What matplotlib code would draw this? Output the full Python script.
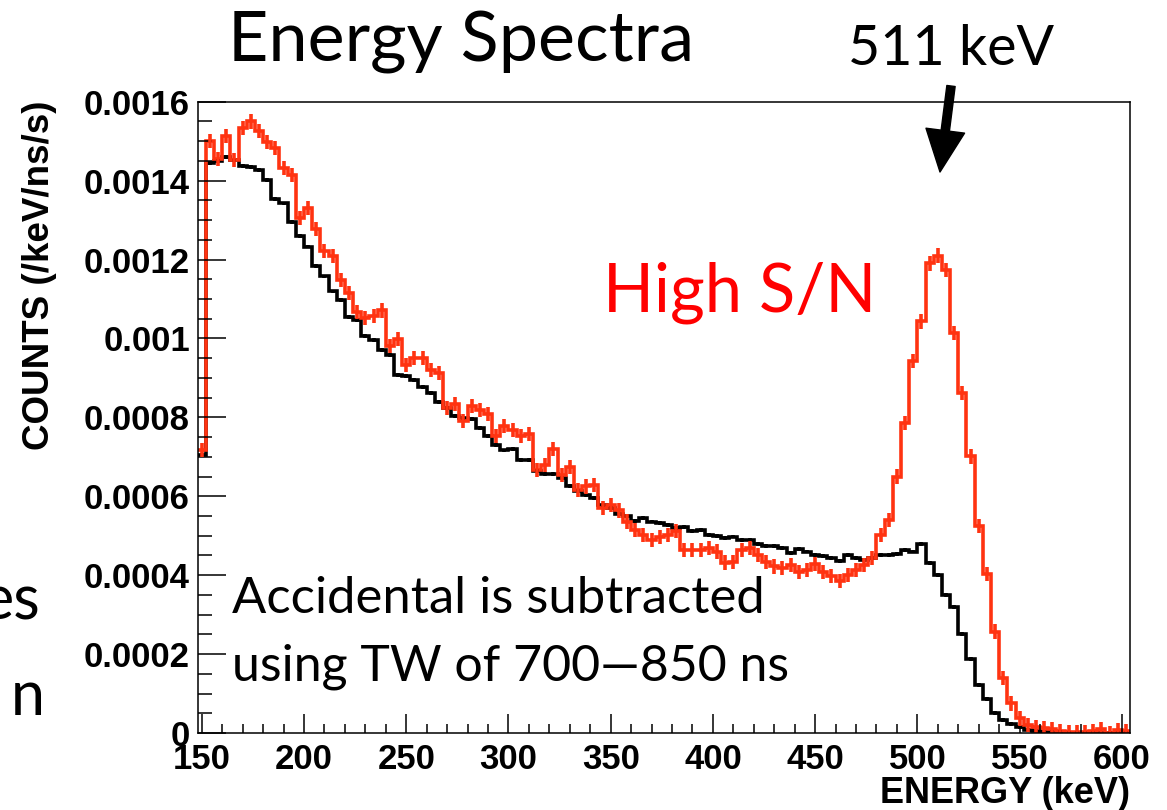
import numpy as np
import matplotlib
matplotlib.use("Agg")
import matplotlib.pyplot as plt
from matplotlib.patches import FancyArrowPatch
from matplotlib.ticker import MultipleLocator, FuncFormatter

# histogram binning (keV): 114 bins of 4 keV from 148 keV
edge_first = 148
bin_width = 4
n_bins = 114

# black: total spectrum (counts /keV/ns/s)
black = [0.000705, 0.001445, 0.001449, 0.001459, 0.001451, 0.001438, 0.001435, 0.001428,
         0.001402, 0.001353, 0.001342, 0.001294, 0.00126, 0.001233, 0.001183, 0.001157,
         0.001119, 0.001098, 0.001054, 0.001046, 0.001005, 0.000995, 0.000971, 0.000959,
         0.000908, 0.000904, 0.000895, 0.000878, 0.000861, 0.00084, 0.000823, 0.000804,
         0.000798, 0.000795, 0.000773, 0.000753, 0.00073, 0.000716, 0.000719, 0.000691,
         0.000692, 0.000663, 0.000657, 0.000657, 0.000646, 0.000625, 0.000614, 0.000602,
         0.000595, 0.000578, 0.00057, 0.000555, 0.00055, 0.000538, 0.000546, 0.000536,
         0.000533, 0.000527, 0.000519, 0.000522, 0.000513, 0.000515, 0.000502, 0.0005,
         0.000494, 0.000498, 0.000489, 0.000488, 0.000479, 0.000473, 0.000474, 0.000468,
         0.000457, 0.000466, 0.00046, 0.000451, 0.000449, 0.000443, 0.000437, 0.000451,
         0.000443, 0.000439, 0.000443, 0.000451, 0.000451, 0.000454, 0.000464, 0.00046,
         0.000479, 0.00043, 0.000401, 0.00035, 0.00032, 0.00025, 0.000187, 0.000122,
         0.000086, 0.00005, 0.000032, 0.000024, 0.000014, 0.000008, 0.000005, 0.0000035,
         0.000002, 0.0000015, 0.000001, 0.000001, 0.0000008, 0.0000006, 0.0000005,
         0.0000004, 0.0000003, 0.0000002]

# red: high S/N selection
red = [0.000718, 0.0015, 0.001455, 0.001514, 0.001453, 0.001534, 0.00155, 0.001525,
       0.001497, 0.001483, 0.001432, 0.001415, 0.001305, 0.001331, 0.001277, 0.001221,
       0.001208, 0.001149, 0.001115, 0.001068, 0.001052, 0.001056, 0.001071, 0.00098,
       0.000998, 0.000933, 0.00095, 0.00095, 0.000919, 0.000912, 0.000823, 0.000834,
       0.00079, 0.000828, 0.000819, 0.000809, 0.000752, 0.000779, 0.000768, 0.000752,
       0.000758, 0.000667, 0.00068, 0.000719, 0.000654, 0.000675, 0.000616, 0.000625,
       0.000629, 0.00057, 0.000578, 0.000564, 0.000536, 0.000515, 0.000502, 0.000489,
       0.000496, 0.000502, 0.000511, 0.000464, 0.000464, 0.000464, 0.000468, 0.00046,
       0.000432, 0.000434, 0.000464, 0.000468, 0.000451, 0.000434, 0.000422, 0.000418,
       0.000426, 0.000409, 0.000413, 0.000428, 0.000409, 0.000397, 0.000386, 0.000401,
       0.000413, 0.000426, 0.000443, 0.000502, 0.00054, 0.00065, 0.000785, 0.000942,
       0.001043, 0.00119, 0.00121, 0.001174, 0.001014, 0.000861, 0.000701, 0.000525,
       0.000403, 0.000257, 0.000139, 0.000075, 0.000037, 0.00002, 0.000016, 0.000012,
       0.000009, 0.000006, 0.000003, 0.000003, 0.000003, 0.000006, 0.000009, 0.000001,
       0.000007, 0.000004]

black_err = 5e-6
red_err = 1.8e-5

edges = edge_first + bin_width * np.arange(n_bins + 1)
centers = 0.5 * (edges[:-1] + edges[1:])

W, H = 1167, 810
fig = plt.figure(figsize=(W / 100, H / 100), dpi=100)
ax = fig.add_axes([198.3 / W, 1 - 733 / H, (1130 - 198.3) / W, (733 - 101.7) / H])

red_col = '#ff3311'
lw = 2.6
ax.stairs(black, edges, color='black', lw=lw, baseline=None)
ax.errorbar(centers, black, yerr=black_err, fmt='none', ecolor='black', elinewidth=lw)
ax.stairs(red, edges, color=red_col, lw=lw, baseline=None)
ax.errorbar(centers, red, yerr=red_err, fmt='none', ecolor=red_col, elinewidth=lw)

ax.set_xlim(148.3, 604)
ax.set_ylim(0, 0.0016)
ax.xaxis.set_major_locator(MultipleLocator(50))
ax.xaxis.set_minor_locator(MultipleLocator(10))
ax.yaxis.set_major_locator(MultipleLocator(0.0002))
ax.yaxis.set_minor_locator(MultipleLocator(0.00005))
ax.yaxis.set_major_formatter(FuncFormatter(lambda v, p: '%g' % v))
ax.tick_params(which='both', direction='in', top=False, right=False, width=1.1)
ax.tick_params(axis='x', which='major', length=13.7, pad=7)
ax.tick_params(axis='x', which='minor', length=6.5)
ax.tick_params(axis='y', which='major', length=20, pad=6)
ax.tick_params(axis='y', which='minor', length=10)
for lab in ax.get_xticklabels() + ax.get_yticklabels():
    lab.set_fontfamily('Liberation Sans')
    lab.set_fontweight('bold')
    lab.set_fontsize(25)
for s in ax.spines.values():
    s.set_linewidth(1.1)

bold = dict(family='Liberation Sans', weight='bold')
fig.text(1130 / W, 1 - 803 / H, 'ENERGY (keV)', ha='right', va='baseline', fontsize=26, **bold)
fig.text(40 / W, 1 - 100 / H, 'COUNTS (/keV/ns/s)', rotation=90, ha='center', va='top',
         fontsize=26.5, **bold)

slide = 'Lato'
fig.text(228 / W, 1 - 62 / H, 'Energy Spectra', ha='left', va='baseline', fontsize=50.5, family=slide)
fig.text(848 / W, 1 - 65 / H, '511 keV', ha='left', va='baseline', fontsize=40, family=slide)
fig.text(603 / W, 1 - 312 / H, 'High S/N', ha='left', va='baseline', fontsize=48,
         family=slide, color='#ff0000')
fig.text(232 / W, 1 - 613 / H, 'Accidental is subtracted', ha='left', va='baseline',
         fontsize=36.5, family=slide)
fig.text(232 / W, 1 - 680 / H, 'using TW of 700\u2014850 ns', ha='left', va='baseline',
         fontsize=36, family=slide)
fig.text(40 / W, 1 - 620 / H, 'es', ha='right', va='baseline', fontsize=44, family=slide)
fig.text(45 / W, 1 - 715 / H, 'n', ha='right', va='baseline', fontsize=44, family=slide)

arrow = FancyArrowPatch((951 / W, 1 - 86 / H), (940 / W, 1 - 172 / H),
                        transform=fig.transFigure, shrinkA=0, shrinkB=0,
                        arrowstyle='simple,head_length=30,head_width=28,tail_width=6',
                        mutation_scale=1, color='black')
fig.add_artist(arrow)

fig.savefig('out.png', dpi=100)
